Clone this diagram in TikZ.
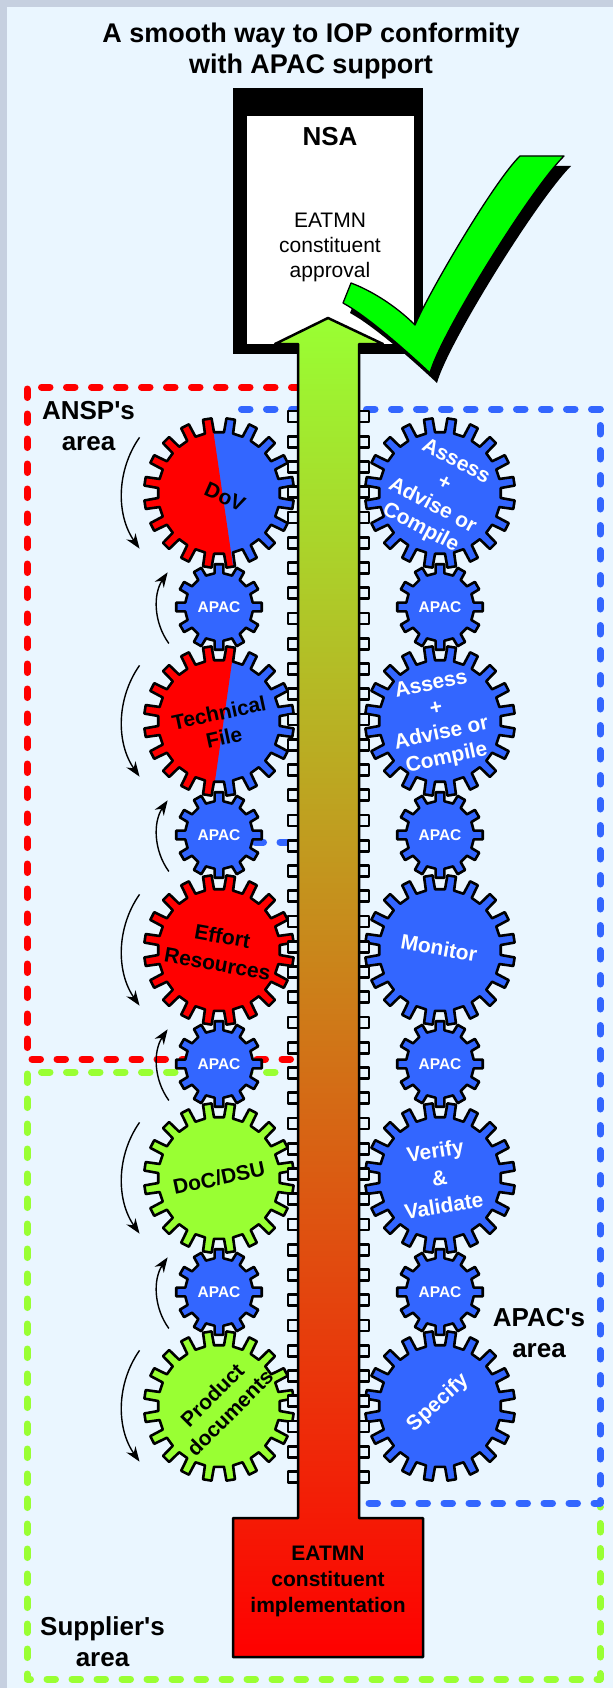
\documentclass[tikz,border=0pt]{standalone}
\usepackage{fontspec}
\setmainfont{Liberation Sans}[Ligatures=TeXOff]
\usetikzlibrary{arrows.meta}

\definecolor{paleblue}{RGB}{234,246,255}
\definecolor{framegray}{RGB}{198,208,224}
\definecolor{apacblue}{RGB}{51,102,255}
\definecolor{anspred}{RGB}{255,0,0}
\definecolor{supgreen}{RGB}{153,255,51}
\definecolor{tickgreen}{RGB}{0,255,0}

% cog outline: teeth, root radius, tip radius, half angle at root, half angle at tip
\newcommand{\cogpath}[5]{(-#4:#2) \foreach \k in {1,...,#1}{ -- ({(\k-1)*360/#1-#5}:#3) -- ({(\k-1)*360/#1+#5}:#3) -- ({(\k-1)*360/#1+#4}:#2) -- ({\k*360/#1-#4}:#2)} -- cycle}
\newcommand{\bigcog}{\cogpath{20}{61}{75}{4.3}{3.3}}
\newcommand{\smallcog}{\cogpath{12}{34}{43}{7.5}{5.7}}
\newcommand{\tickpath}{(351,-283) .. controls (370,-290) and (395,-305) .. (415,-325) .. controls (430,-290) and (495,-180) .. (520,-156) -- (564,-156) .. controls (530,-190) and (440,-335) .. (430,-373) .. controls (400,-345) and (365,-315) .. (343,-303) -- cycle}

\begin{document}
\begin{tikzpicture}[x=1pt, y=1pt, >={Stealth[length=15pt,width=11pt]}, line join=round,
	area/.style={line width=7pt, line cap=round, dash pattern=on 8.5pt off 16.5pt},
	cog/.style={draw=black, line width=2.6pt},
	rack/.style={fill=paleblue, draw=black, line width=2.6pt},
	turn/.style={->, line width=1.4pt},
	cogtext/.style={font=\bfseries\fontsize{21}{25}\selectfont, align=center, inner sep=0pt},
	widecogtext/.style={cogtext, font=\bfseries\fontsize{21}{28}\selectfont},
	apactext/.style={font=\bfseries\fontsize{15.5}{18}\selectfont, text=white, inner sep=0pt},
	arealabel/.style={font=\bfseries\fontsize{26}{31}\selectfont, align=center, inner sep=0pt}]
	\useasboundingbox (0,0) rectangle (613,-1688);
	\fill[paleblue] (0,0) rectangle (613,-1688);
	\fill[framegray] (0,0) rectangle (613,-7);
	\fill[framegray] (0,0) rectangle (7,-1688);
	
	% areas
	\draw[area, anspred] (300,-387) -- (27,-387) -- (27,-1059) -- (300,-1059);
	\draw[area, supgreen] (300,-1072) -- (27,-1072) -- (27,-1679) -- (600,-1679) -- (600,-1507);
	\draw[area, apacblue] (255,-842) -- (330,-842) -- (330,-1503) -- (600,-1503) -- (600,-409) -- (232,-409);
	
	\foreach \i/\y in {1/493,2/607,3/721,4/835,5/950,6/1064,7/1178,8/1292,9/1406}{
		\coordinate (l\i) at (219,-\y);
		\coordinate (r\i) at (440,-\y);
	}
	
	% left column
	\fill[apacblue, shift={(l1)}, rotate=9] \bigcog;
	\begin{scope}
		\clip (100,-400) -- (208.8,-400) -- (236.5,-590) -- (100,-590) -- cycle;
		\fill[anspred, shift={(l1)}, rotate=9] \bigcog;
	\end{scope}
	\draw[cog, shift={(l1)}, rotate=9] \bigcog;
	\fill[apacblue, shift={(l3)}, rotate=9] \bigcog;
	\begin{scope}
		\clip (100,-630) -- (236.6,-630) -- (210.1,-815) -- (100,-815) -- cycle;
		\fill[anspred, shift={(l3)}, rotate=9] \bigcog;
	\end{scope}
	\draw[cog, shift={(l3)}, rotate=9] \bigcog;
	\filldraw[cog, fill=anspred, shift={(l5)}, rotate=9] \bigcog;
	\filldraw[cog, fill=supgreen, shift={(l7)}, rotate=9] \bigcog;
	\filldraw[cog, fill=supgreen, shift={(l9)}, rotate=9] \bigcog;
	
	% right column
	\foreach \i in {1,3,5,7,9}{
		\filldraw[cog, fill=apacblue, shift={(r\i)}, rotate=9] \bigcog;
	}
	\foreach \i in {2,4,6,8}{
		\filldraw[cog, fill=apacblue, shift={(l\i)}] \smallcog;
		\filldraw[cog, fill=apacblue, shift={(r\i)}] \smallcog;
		\node[apactext] (apacl\i) at (l\i) {APAC};
		\node[apactext] (apacr\i) at (r\i) {APAC};
		\draw[turn] ([shift={(216:62)}]l\i) arc[start angle=216, end angle=146, radius=62];
	}
	\foreach \i in {1,3,5,7,9}{
		\draw[turn] ([shift={(145:97)}]l\i) arc[start angle=145, end angle=215, radius=97];
	}
	
	% rack
	\foreach \k in {0,...,42}{
		\pgfmathsetmacro\ty{-411-25.25*\k}
		\filldraw[rack] (288,\ty) rectangle (299,\ty-11);
		\filldraw[rack] (358,\ty) rectangle (369,\ty-11);
	}
	
	% NSA box
	\fill[black] (233,-88) rectangle (423,-354);
	\fill[white] (247,-116) rectangle (414,-344);
	
	% arrow up to the NSA
	\draw[line width=2.5pt, top color=supgreen, bottom color=anspred]
	(233,-1657) -- (233,-1518) -- (298,-1518) -- (298,-344) -- (275,-344) -- (328,-318)
	-- (383,-344) -- (359,-344) -- (359,-1518) -- (423,-1518) -- (423,-1657) -- cycle;
	
	% tick
	\fill[black, shift={(7,-10)}] \tickpath;
	\filldraw[fill=tickgreen, draw=black, line width=1.3pt] \tickpath;
	
	\node[font=\bfseries\fontsize{27}{31}\selectfont, align=center, inner sep=0pt] (title) at (311,-50.6) {A smooth way to IOP conformity\\with APAC support};
	\node[font=\bfseries\fontsize{26}{30}\selectfont, inner sep=0pt] (nsa) at (330,-137) {NSA};
	\node[font=\fontsize{21}{25}\selectfont, align=center, inner sep=0pt] (approval) at (330,-247) {EATMN\\constituent\\approval};
	\node[font=\bfseries\fontsize{21}{26}\selectfont, align=center, inner sep=0pt] (implementation) at (328,-1581) {EATMN\\constituent\\implementation};
	
	\node[cogtext, rotate=-24] (dov) at (225,-497) {DoV};
	\node[cogtext, rotate=12] (techfile) at (221.5,-725) {Technical\\File};
	\node[widecogtext, rotate=-10] (effort) at (220,-950) {Effort\\Resources};
	\node[cogtext, rotate=12] (docdsu) at (219,-1178) {DoC/DSU};
	\node[cogtext, rotate=45] (proddocs) at (221,-1404) {Product\\documents};
	
	\node[cogtext, text=white, rotate=-28] (assessa) at (438,-495) {Assess\\+\\Advise or\\Compile};
	\node[cogtext, text=white, rotate=12] (assessb) at (439,-722) {Assess\\+\\Advise or\\Compile};
	\node[cogtext, text=white, rotate=-10] (monitor) at (439,-948) {Monitor};
	\node[widecogtext, text=white, rotate=9] (verify) at (439.5,-1178) {Verify\\\&\\Validate};
	\node[cogtext, text=white, rotate=42] (specify) at (438,-1403) {Specify};
	
	\node[arealabel] (ansp) at (88.5,-426) {ANSP's\\area};
	\node[arealabel] (apacarea) at (539,-1333) {APAC's\\area};
	\node[arealabel] (supplier) at (102.5,-1642) {Supplier's\\area};
\end{tikzpicture}
\end{document}
